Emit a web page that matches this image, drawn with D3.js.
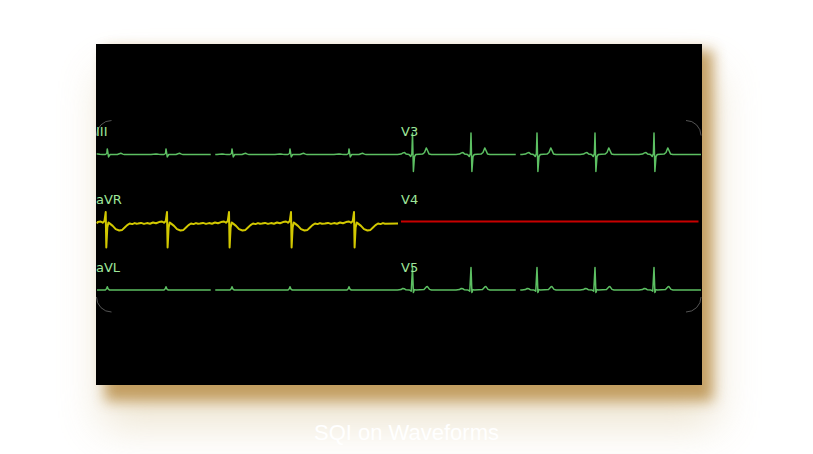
<!DOCTYPE html>
<html><head><meta charset="utf-8">
<script src="https://cdn.jsdelivr.net/npm/d3@7"></script>
<style>html,body{margin:0;padding:0;background:#fff;overflow:hidden}</style>
</head><body>
<script>
// ---- data (time in ms, amplitude in mV) ----
const title = "SQI on Waveforms";
const leadNames = ["III", "aVR", "aVL", "V3", "V4", "V5"];
const leftBeats = [206, 1380, 2700, 3860, 5040];      // III, aVL R-peaks
const avrBeats  = [174, 1400, 2640, 3880, 5140];      // aVR R-peaks
const rightBeats = [250, 1420, 2740, 3900, 5080];     // V3, V5 R-peaks
const leftGap = [2275, 2365];
const rightGap = [2315, 2405];
const tplIII = [[-300,0],[-200,0.03],[-150,0.01],[-100,0],[-40,0],[-10,0.05],[0,0.28],[25,-0.12],[55,0],[200,0],[240,0.04],[270,0.06],[310,0.02],[340,0]];
const tplAVL = [[-300,0],[-40,0],[-15,0.06],[0,0.16],[20,0.04],[45,0],[340,0]];
const tplAVR = [[-580,-0.1],[-520,-0.07],[-460,-0.12],[-400,-0.08],[-340,-0.11],[-280,-0.05],[-220,-0.09],[-160,-0.03],[-100,0.0],[-60,-0.06],[-25,0.02],[0,0.47],[12,-1.3],[32,-0.3],[55,-0.05],[90,-0.12],[140,-0.22],[200,-0.38],[270,-0.45],[330,-0.42],[380,-0.3],[430,-0.18],[480,-0.1],[530,-0.13],[580,-0.08],[620,-0.11]];
const tplV3 = [[-300,0],[-230,0.02],[-190,0.08],[-160,0.1],[-130,0.03],[-70,0],[-35,-0.1],[-12,0.05],[0,1.08],[18,-0.85],[40,-0.1],[65,0],[200,0.02],[240,0.1],[275,0.33],[300,0.2],[330,0.03],[380,0]];
const tplV4 = [[20,0],[5970,0]];
const tplV5 = [[-300,0],[-230,0.02],[-195,0.08],[-160,0.06],[-130,0.01],[-60,0],[-25,-0.06],[0,1.12],[18,-0.13],[40,0.02],[70,0],[230,0.03],[280,0.16],[300,0.17],[340,0.03],[380,0]];

// ---- layout ----
const W = 813, H = 454;
const svg = d3.select("body").append("svg").attr("width", W).attr("height", H);
const defs = svg.append("defs");
const f1 = defs.append("filter").attr("id","sh1").attr("x","-30%").attr("y","-30%").attr("width","160%").attr("height","160%");
f1.append("feGaussianBlur").attr("stdDeviation", 7);
const f2 = defs.append("filter").attr("id","sh2").attr("x","-30%").attr("y","-30%").attr("width","160%").attr("height","160%");
f2.append("feGaussianBlur").attr("stdDeviation", 22);

const panel = {x: 96, y: 44, w: 606, h: 341};
svg.append("rect").attr("x", panel.x + 6).attr("y", panel.y + 30).attr("width", panel.w + 8).attr("height", panel.h + 10)
  .attr("fill", "rgb(215,195,150)").attr("opacity", 0.45).attr("filter", "url(#sh2)");
svg.append("rect").attr("x", panel.x + 9).attr("y", panel.y + 6).attr("width", panel.w + 2).attr("height", panel.h + 10)
  .attr("fill", "rgb(190,150,85)").attr("opacity", 0.9).attr("filter", "url(#sh1)");
svg.append("rect").attr("x", panel.x).attr("y", panel.y).attr("width", panel.w).attr("height", panel.h).attr("fill", "#000");

// corner arcs
const cr = {x0: 96.5, y0: 120.5, x1: 701, y1: 312, r: 15};
const cp = d3.path();
cp.moveTo(cr.x0, cr.y0 + cr.r); cp.arcTo(cr.x0, cr.y0, cr.x0 + cr.r, cr.y0, cr.r);
cp.moveTo(cr.x1 - cr.r, cr.y0); cp.arcTo(cr.x1, cr.y0, cr.x1, cr.y0 + cr.r, cr.r);
cp.moveTo(cr.x1, cr.y1 - cr.r); cp.arcTo(cr.x1, cr.y1, cr.x1 - cr.r, cr.y1, cr.r);
cp.moveTo(cr.x0 + cr.r, cr.y1); cp.arcTo(cr.x0, cr.y1, cr.x0, cr.y1 - cr.r, cr.r);
svg.append("path").attr("d", cp.toString()).attr("fill","none").attr("stroke","#777").attr("stroke-width",1).attr("opacity",0.7);

// scales
const xLeft = d3.scaleLinear().domain([0, 6000]).range([97, 397]);
const xRight = d3.scaleLinear().domain([0, 6000]).range([400, 700]);
const rowBase = [154.5, 221.5, 290];
const yRow = rowBase.map(b => d3.scaleLinear().domain([-1.5, 1.5]).range([b + 30, b - 30]));

function buildTrace(beats, tpl, tStart, tEnd, gap) {
  const base = tpl[0][1];
  let pts = [[tStart, base]];
  beats.forEach(b => tpl.forEach(p => pts.push([b + p[0], p[1]])));
  pts.push([tEnd, base]);
  pts = pts.filter(p => p[0] >= tStart && p[0] <= tEnd).sort((a, b) => a[0] - b[0]);
  if (!gap) return [pts];
  const s1 = pts.filter(p => p[0] < gap[0]); s1.push([gap[0], base]);
  const s2 = [[gap[1], base]].concat(pts.filter(p => p[0] > gap[1]));
  return [s1, s2];
}

const leads = [
  {name: "III", x: xLeft, row: 0, segs: buildTrace(leftBeats, tplIII, 0, 6000, leftGap), color: "#5cbf62", w: 1.5, lx: 96},
  {name: "aVR", x: xLeft, row: 1, segs: buildTrace(avrBeats, tplAVR, 0, 6020, null), color: "#d2c800", w: 2, lx: 96},
  {name: "aVL", x: xLeft, row: 2, segs: buildTrace(leftBeats, tplAVL, 0, 6000, leftGap), color: "#5cbf62", w: 1.5, lx: 96},
  {name: "V3", x: xRight, row: 0, segs: buildTrace(rightBeats, tplV3, -60, 6020, rightGap), color: "#5cbf62", w: 1.5, lx: 401},
  {name: "V4", x: xRight, row: 1, segs: [tplV4], color: "#c80000", w: 2.2, lx: 401},
  {name: "V5", x: xRight, row: 2, segs: buildTrace(rightBeats, tplV5, -60, 6020, rightGap), color: "#5cbf62", w: 1.5, lx: 401}
];
const labelBase = [136, 204, 272];

leads.forEach(L => {
  const line = d3.line().x(d => L.x(d[0])).y(d => yRow[L.row](d[1]));
  svg.append("g").selectAll("path").data(L.segs).join("path")
    .attr("d", line).attr("fill", "none").attr("stroke", L.color)
    .attr("stroke-width", L.w).attr("stroke-linejoin", "round");
  svg.append("text").attr("x", L.lx).attr("y", labelBase[L.row]).text(L.name)
    .attr("font-family", "DejaVu Sans, Verdana, sans-serif").attr("font-size", 13)
    .attr("fill", "#9ee79a");
});

svg.append("text").attr("x", 406.5).attr("y", 440).attr("text-anchor", "middle")
  .attr("font-family", "Liberation Sans, Arial, sans-serif").attr("font-size", 22)
  .attr("fill", "#ffffff").text(title);
</script>
</body></html>
